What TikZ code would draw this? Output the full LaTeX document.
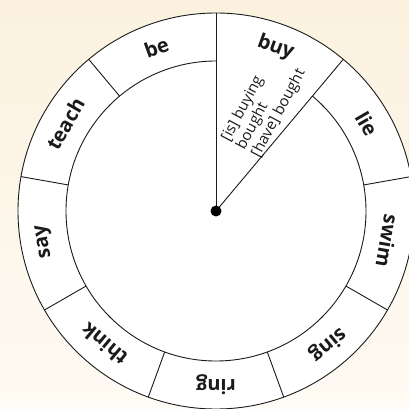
\documentclass[tikz,border=0pt]{standalone}
\usepackage{fontspec}
\setmainfont{Open Sans}
\usepackage{xcolor}
\usepackage{tikz}
\usetikzlibrary{positioning,calc}
\definecolor{cream}{HTML}{FBF1DE}
\definecolor{creamlight}{HTML}{FEFBF4}
\definecolor{rim}{HTML}{1A1A1A}
\tikzset{
  wheelline/.style={draw=rim, line width=0.9pt},
  verb/.style={font=\fontsize{20}{22}\selectfont\bfseries, inner sep=0pt, text=rim},
  forms/.style={font=\fontsize{15}{17}\selectfont, align=left, inner sep=0pt, text=rim},
}

\begin{document}
\begin{tikzpicture}[x=1pt, y=1pt]
  \useasboundingbox (-216,-198) rectangle (193,211);
  \shade[top color=cream, bottom color=creamlight] (-216,-198) rectangle (193,211);

  % wheel
  \coordinate (hub) at (0,0);
  \fill[white] (hub) circle[radius=198pt];
  \draw[wheelline] (hub) circle[radius=198pt];
  \draw[wheelline] (50:150) arc[start angle=50, end angle=-270, radius=150pt];
  \foreach \a in {130,10,-30,-70,-110,-150,170}
    \draw[wheelline] (\a:150) -- (\a:198);

  % pointer
  \coordinate (tipleft) at (90:198);
  \coordinate (tipright) at (50:198);
  \draw[wheelline] (hub) -- (tipleft);
  \draw[wheelline] (hub) -- (tipright);
  \node[circle, fill=black, minimum size=11pt, inner sep=0pt] (hubdot) at (hub) {};

  \foreach \w/\a in {be/110, buy/70, lie/30, swim/-10, sing/-50, ring/-90, think/-130, say/-170, teach/150}
    \node[verb, rotate=\a-90] (\w) at (\a:174) {\w};

  \node[forms, rotate=62, anchor=north west] (buyforms) at (3,74)
    {[is] buying\\bought\\{}[have] bought};

\end{tikzpicture}
\end{document}
